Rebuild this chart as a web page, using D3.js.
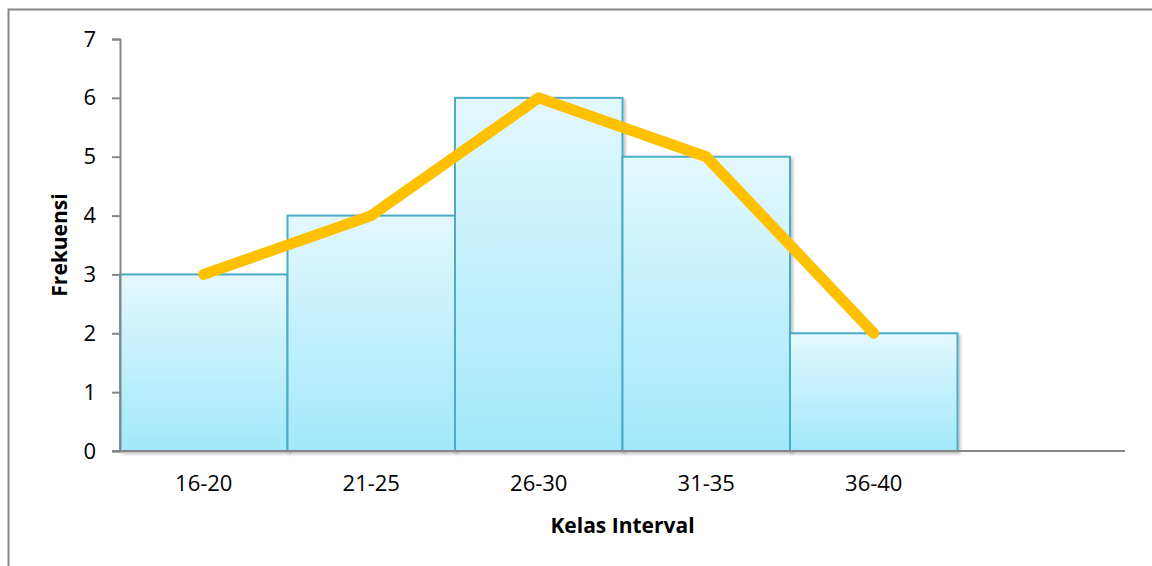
<!DOCTYPE html>
<html>
<head>
<meta charset="utf-8">
<script src="https://cdn.jsdelivr.net/npm/d3@7"></script>
<style>
  body { margin: 0; background: #fff; }
  text { font-family: "Open Sans", "Liberation Sans", sans-serif; }
</style>
</head>
<body>
<svg id="chart" width="1152" height="566"></svg>
<script>
var categories = ['16-20', '21-25', '26-30', '31-35', '36-40', ''],
    frequencies = [3, 4, 6, 5, 2],
    yTicks = [0, 1, 2, 3, 4, 5, 6, 7],
    xTitle = 'Kelas Interval',
    yTitle = 'Frekuensi';

var width = 1152,
    height = 566,
    plotLeft = 120,
    plotRight = 1125,
    plotTop = 39,
    plotBottom = 451,
    barStroke = '#4bacc6',
    lineColor = '#ffc000',
    axisColor = '#868686';

var svg = d3.select('#chart');

// outer chart frame (runs off the right and bottom edges)
svg.append('rect')
    .attr('x', 8.5)
    .attr('y', 9.5)
    .attr('width', width)
    .attr('height', height)
    .attr('fill', 'none')
    .attr('stroke', axisColor)
    .attr('stroke-width', 2);

var defs = svg.append('defs');

var grad = defs.append('linearGradient')
    .attr('id', 'barFill')
    .attr('x1', 0).attr('y1', 0)
    .attr('x2', 0).attr('y2', 1);
grad.append('stop').attr('offset', '0%').attr('stop-color', '#e3f8fd');
grad.append('stop').attr('offset', '100%').attr('stop-color', '#a2e8fb');

var shadow = defs.append('filter')
    .attr('id', 'shadow')
    .attr('x', '-5%').attr('y', '-5%')
    .attr('width', '115%').attr('height', '115%');
shadow.append('feDropShadow')
    .attr('dx', 2).attr('dy', 2)
    .attr('stdDeviation', 1.5)
    .attr('flood-color', '#000')
    .attr('flood-opacity', 0.25);

var x = d3.scaleBand()
    .domain(d3.range(categories.length))
    .range([plotLeft, plotRight])
    .padding(0);

var y = d3.scaleLinear()
    .domain([0, 7])
    .range([plotBottom, plotTop]);

// bars
svg.append('g')
    .selectAll('rect')
    .data(frequencies)
    .enter().append('rect')
    .attr('x', function(d, i) { return x(i); })
    .attr('y', function(d) { return y(d); })
    .attr('width', x.bandwidth())
    .attr('height', function(d) { return y(0) - y(d); })
    .attr('fill', 'url(#barFill)')
    .attr('stroke', barStroke)
    .attr('stroke-width', 2)
    .attr('filter', 'url(#shadow)');

// y axis
var yAxis = d3.axisLeft(y)
    .tickValues(yTicks)
    .tickSize(8)
    .tickPadding(16)
    .tickFormat(d3.format('d'));

var gY = svg.append('g')
    .attr('transform', 'translate(' + plotLeft + ',0)')
    .call(yAxis);
gY.select('.domain').attr('stroke', axisColor).attr('stroke-width', 2);
gY.selectAll('.tick line').attr('stroke', axisColor).attr('stroke-width', 2);
gY.selectAll('.tick text')
    .attr('fill', '#000')
    .style('font-size', '22px');

// x axis
var xAxis = d3.axisBottom(x)
    .tickSize(0)
    .tickPadding(24)
    .tickFormat(function(i) { return categories[i]; });

var gX = svg.append('g')
    .attr('transform', 'translate(0,' + plotBottom + ')')
    .call(xAxis);
gX.select('.domain').attr('stroke', axisColor).attr('stroke-width', 2)
    .attr('d', 'M' + (plotLeft - 8) + ',0H' + plotRight);
gX.selectAll('.tick text')
    .attr('fill', '#000')
    .style('font-size', '22px');

// frequency polygon
var line = d3.line()
    .x(function(d, i) { return x(i) + x.bandwidth() / 2; })
    .y(function(d) { return y(d); });

svg.append('path')
    .datum(frequencies)
    .attr('d', line)
    .attr('fill', 'none')
    .attr('stroke', lineColor)
    .attr('stroke-width', 11)
    .attr('stroke-linejoin', 'round')
    .attr('stroke-linecap', 'round');

// axis titles
svg.append('text')
    .attr('x', (plotLeft + plotRight) / 2)
    .attr('y', 533)
    .attr('text-anchor', 'middle')
    .style('font-size', '21px')
    .style('font-weight', 'bold')
    .text(xTitle);

svg.append('text')
    .attr('transform', 'translate(67,' + ((plotTop + plotBottom) / 2) + ') rotate(-90)')
    .attr('text-anchor', 'middle')
    .style('font-size', '21px')
    .style('font-weight', 'bold')
    .text(yTitle);
</script>
</body>
</html>
